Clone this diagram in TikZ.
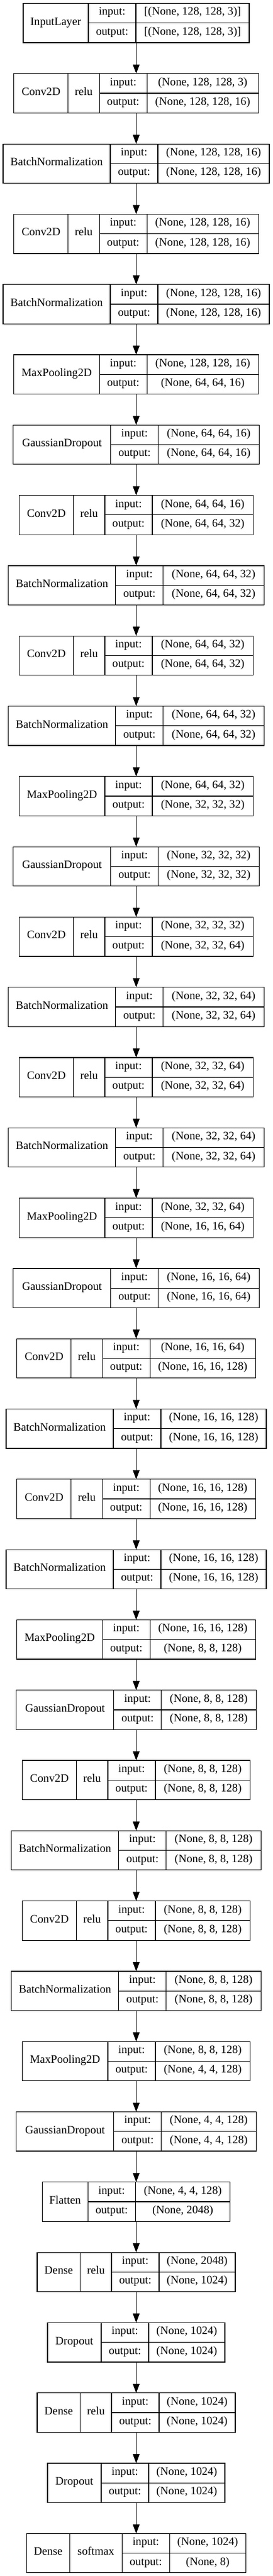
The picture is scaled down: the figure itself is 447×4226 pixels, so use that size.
\documentclass[tikz,border=0pt]{standalone}
\usepackage{fontspec}
\setmainfont{Liberation Serif}
\usetikzlibrary{
arrows.meta,
positioning
}
\tikzset{>={Triangle[length=15pt,width=11pt]}}

% cell widths (px of the plot)
\def\wInput{107}
\def\wConv{89}
\def\wBN{176}
\def\wPool{140.6}
\def\wGauss{160}
\def\wFlat{75}
\def\wDense{70.7}
\def\wDrop{88}
\def\wRelu{51.3}
\def\wSoft{86}
\def\wIO{78}

\tikzset{
  cell/.style={draw, line width=1.2pt, outer sep=0pt, inner sep=0pt, anchor=north west,
    minimum height=32.25pt, text height=.662em, text depth=0pt},
  namecell/.style={cell, minimum height=64.5pt},
  layerbox/.style={draw, line width=1.2pt, outer sep=0pt, inner sep=0pt, anchor=north,
    minimum height=64.5pt}
}

% \layer{index}{name}{name width}{activation}{act width}{shape width}{input}{output}
\newcommand\layer[8]{%
  \pgfmathsetmacro\ltop{5.5+(#1-1)*115.3}%
  \pgfmathsetmacro\lwidth{#3+#5+\wIO+#6}%
  \node[layerbox, minimum width=\lwidth pt] (l#1) at (223.5,\ltop) {};
  \node[namecell, minimum width=#3pt] (l#1name) at (l#1.north west) {#2};
  \def\prevcell{l#1name}%
  \ifdim #5pt>0pt
    \node[namecell, minimum width=#5pt] (l#1act) at (l#1name.north east) {#4};
    \def\prevcell{l#1act}%
  \fi
  \node[cell, minimum width=\wIO pt] (l#1in)  at (\prevcell.north east) {input:};
  \node[cell, minimum width=\wIO pt] (l#1out) at (l#1in.south west) {output:};
  \node[cell, minimum width=#6pt] (l#1inshape)  at (l#1in.north east) {#7};
  \node[cell, minimum width=#6pt] (l#1outshape) at (l#1out.north east) {#8};
}

\begin{document}
\begin{tikzpicture}[x=1pt, y=-1pt, font=\fontsize{18.7}{22}\selectfont, line width=1.2pt]
	\useasboundingbox (0,0) rectangle (447,4226);

	\layer{1}{InputLayer}{\wInput}{}{0}{186}{[(None, 128, 128, 3)]}{[(None, 128, 128, 3)]}
	\layer{2}{Conv2D}{\wConv}{relu}{\wRelu}{183}{(None, 128, 128, 3)}{(None, 128, 128, 16)}
	\layer{3}{BatchNormalization}{\wBN}{}{0}{183}{(None, 128, 128, 16)}{(None, 128, 128, 16)}
	\layer{4}{Conv2D}{\wConv}{relu}{\wRelu}{183}{(None, 128, 128, 16)}{(None, 128, 128, 16)}
	\layer{5}{BatchNormalization}{\wBN}{}{0}{183}{(None, 128, 128, 16)}{(None, 128, 128, 16)}
	\layer{6}{MaxPooling2D}{\wPool}{}{0}{183}{(None, 128, 128, 16)}{(None, 64, 64, 16)}
	\layer{7}{GaussianDropout}{\wGauss}{}{0}{165.5}{(None, 64, 64, 16)}{(None, 64, 64, 16)}

	\layer{8}{Conv2D}{\wConv}{relu}{\wRelu}{165.5}{(None, 64, 64, 16)}{(None, 64, 64, 32)}
	\layer{9}{BatchNormalization}{\wBN}{}{0}{165.5}{(None, 64, 64, 32)}{(None, 64, 64, 32)}
	\layer{10}{Conv2D}{\wConv}{relu}{\wRelu}{165.5}{(None, 64, 64, 32)}{(None, 64, 64, 32)}
	\layer{11}{BatchNormalization}{\wBN}{}{0}{165.5}{(None, 64, 64, 32)}{(None, 64, 64, 32)}
	\layer{12}{MaxPooling2D}{\wPool}{}{0}{165.5}{(None, 64, 64, 32)}{(None, 32, 32, 32)}
	\layer{13}{GaussianDropout}{\wGauss}{}{0}{165.5}{(None, 32, 32, 32)}{(None, 32, 32, 32)}

	\layer{14}{Conv2D}{\wConv}{relu}{\wRelu}{165.5}{(None, 32, 32, 32)}{(None, 32, 32, 64)}
	\layer{15}{BatchNormalization}{\wBN}{}{0}{165.5}{(None, 32, 32, 64)}{(None, 32, 32, 64)}
	\layer{16}{Conv2D}{\wConv}{relu}{\wRelu}{165.5}{(None, 32, 32, 64)}{(None, 32, 32, 64)}
	\layer{17}{BatchNormalization}{\wBN}{}{0}{165.5}{(None, 32, 32, 64)}{(None, 32, 32, 64)}
	\layer{18}{MaxPooling2D}{\wPool}{}{0}{165.5}{(None, 32, 32, 64)}{(None, 16, 16, 64)}
	\layer{19}{GaussianDropout}{\wGauss}{}{0}{165.5}{(None, 16, 16, 64)}{(None, 16, 16, 64)}

	\layer{20}{Conv2D}{\wConv}{relu}{\wRelu}{173}{(None, 16, 16, 64)}{(None, 16, 16, 128)}
	\layer{21}{BatchNormalization}{\wBN}{}{0}{173}{(None, 16, 16, 128)}{(None, 16, 16, 128)}
	\layer{22}{Conv2D}{\wConv}{relu}{\wRelu}{173}{(None, 16, 16, 128)}{(None, 16, 16, 128)}
	\layer{23}{BatchNormalization}{\wBN}{}{0}{173}{(None, 16, 16, 128)}{(None, 16, 16, 128)}
	\layer{24}{MaxPooling2D}{\wPool}{}{0}{173}{(None, 16, 16, 128)}{(None, 8, 8, 128)}
	\layer{25}{GaussianDropout}{\wGauss}{}{0}{155.5}{(None, 8, 8, 128)}{(None, 8, 8, 128)}

	\layer{26}{Conv2D}{\wConv}{relu}{\wRelu}{155.5}{(None, 8, 8, 128)}{(None, 8, 8, 128)}
	\layer{27}{BatchNormalization}{\wBN}{}{0}{155.5}{(None, 8, 8, 128)}{(None, 8, 8, 128)}
	\layer{28}{Conv2D}{\wConv}{relu}{\wRelu}{155.5}{(None, 8, 8, 128)}{(None, 8, 8, 128)}
	\layer{29}{BatchNormalization}{\wBN}{}{0}{155.5}{(None, 8, 8, 128)}{(None, 8, 8, 128)}
	\layer{30}{MaxPooling2D}{\wPool}{}{0}{155.5}{(None, 8, 8, 128)}{(None, 4, 4, 128)}
	\layer{31}{GaussianDropout}{\wGauss}{}{0}{155.5}{(None, 4, 4, 128)}{(None, 4, 4, 128)}

	\layer{32}{Flatten}{\wFlat}{}{0}{155.5}{(None, 4, 4, 128)}{(None, 2048)}
	\layer{33}{Dense}{\wDense}{relu}{\wRelu}{125}{(None, 2048)}{(None, 1024)}
	\layer{34}{Dropout}{\wDrop}{}{0}{125}{(None, 1024)}{(None, 1024)}
	\layer{35}{Dense}{\wDense}{relu}{\wRelu}{125}{(None, 1024)}{(None, 1024)}
	\layer{36}{Dropout}{\wDrop}{}{0}{125}{(None, 1024)}{(None, 1024)}
	\layer{37}{Dense}{\wDense}{softmax}{\wSoft}{125}{(None, 1024)}{(None, 8)}

	\foreach \i [evaluate=\i as \j using int(\i+1)] in {1,...,36}
		\draw[->] (l\i) -- (l\j);
\end{tikzpicture}
\end{document}
